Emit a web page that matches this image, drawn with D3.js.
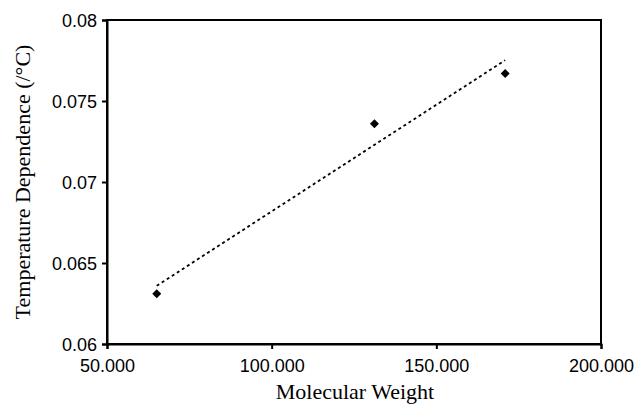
<!DOCTYPE html>
<html>
<head>
<meta charset="utf-8">
<script src="https://cdn.jsdelivr.net/npm/d3@7"></script>
<style>
  html, body { margin: 0; padding: 0; background: #fff; }
  svg { display: block; }
</style>
</head>
<body>
<svg id="chart" width="637" height="404"></svg>
<script>
// Measured samples: molecular weight vs. temperature dependence
const molecularWeight = [65.1, 131.2, 170.9];
const tempDependence = [0.0631, 0.0736, 0.0767];
const xTicks = [50, 100, 150, 200];
const yTicks = [0.06, 0.065, 0.07, 0.075, 0.08];

const svg = d3.select("#chart");
const margin = { left: 107, top: 20, right: 36, bottom: 60 };
const W = 637, H = 404;

const x = d3.scaleLinear().domain([50, 200]).range([margin.left, W - margin.right]);
const y = d3.scaleLinear().domain([0.06, 0.08]).range([H - margin.bottom, margin.top]);

// Plot frame
svg.append("rect")
  .attr("x", x(50)).attr("y", y(0.08))
  .attr("width", x(200) - x(50)).attr("height", y(0.06) - y(0.08))
  .attr("fill", "none").attr("stroke", "#000").attr("stroke-width", 2);

// Axes
const xAxis = svg.append("g")
  .attr("transform", `translate(0,${y(0.06)})`)
  .call(d3.axisBottom(x).tickValues(xTicks).tickFormat(d3.format(".3f")).tickSize(5));
const yAxis = svg.append("g")
  .attr("transform", `translate(${x(50)},0)`)
  .call(d3.axisLeft(y).tickValues(yTicks).tickFormat(d => d3.format("")(+d.toFixed(3))).tickSize(5));

[xAxis, yAxis].forEach(g => {
  g.select(".domain").attr("stroke-width", 2);
  g.selectAll(".tick line").attr("stroke-width", 2);
  g.selectAll(".tick text")
    .attr("font-family", "Liberation Sans, Arial, sans-serif")
    .attr("font-size", 18).attr("fill", "#000");
});
xAxis.selectAll(".tick text").attr("y", 28).attr("dy", 0);
yAxis.selectAll(".tick text").attr("x", -10).attr("dy", "0.34em");

// Linear least-squares trend line
const n = molecularWeight.length;
const mx = d3.mean(molecularWeight), my = d3.mean(tempDependence);
let sxy = 0, sxx = 0;
for (let i = 0; i < n; i++) {
  sxy += (molecularWeight[i] - mx) * (tempDependence[i] - my);
  sxx += (molecularWeight[i] - mx) ** 2;
}
const slope = sxy / sxx, intercept = my - slope * mx;
const xMin = d3.min(molecularWeight), xMax = d3.max(molecularWeight);

svg.append("line")
  .attr("x1", x(xMin)).attr("y1", y(intercept + slope * xMin))
  .attr("x2", x(xMax)).attr("y2", y(intercept + slope * xMax))
  .attr("stroke", "#000").attr("stroke-width", 1.8)
  .attr("stroke-dasharray", "3,3");

// Diamond markers
svg.selectAll("path.pt")
  .data(molecularWeight.map((m, i) => [m, tempDependence[i]]))
  .join("path")
  .attr("class", "pt")
  .attr("transform", d => `translate(${x(d[0])},${y(d[1])})`)
  .attr("d", "M0,-4.5L4.5,0L0,4.5L-4.5,0Z")
  .attr("fill", "#000");

// Axis titles
svg.append("text")
  .attr("x", 355).attr("y", 399)
  .attr("text-anchor", "middle")
  .attr("font-family", "Liberation Serif, Times New Roman, serif")
  .attr("font-size", 22)
  .text("Molecular Weight");

svg.append("text")
  .attr("transform", `translate(30,182) rotate(-90)`)
  .attr("text-anchor", "middle")
  .attr("font-family", "Liberation Serif, Times New Roman, serif")
  .attr("font-size", 22)
  .text("Temperature Dependence (/°C)");
</script>
</body>
</html>
